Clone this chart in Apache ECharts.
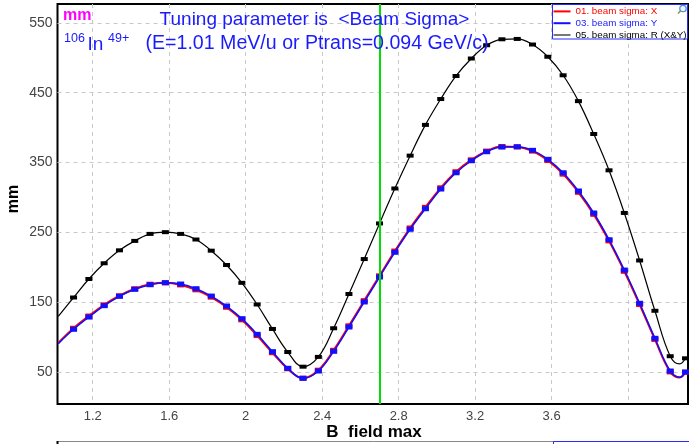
<!DOCTYPE html>
<html>
<head>
<meta charset="utf-8">
<script src="https://cdn.jsdelivr.net/npm/echarts@6/dist/echarts.min.js"></script>
<style>
html,body{margin:0;padding:0;background:#fff;}
#chart{width:689px;height:444px;}
</style>
</head>
<body>
<div id="chart"></div>
<script>
// ---- data ----
var bField = [1.02, 1.10, 1.18, 1.26, 1.34, 1.42, 1.50, 1.58, 1.66, 1.74, 1.82, 1.90, 1.98, 2.06, 2.14, 2.22, 2.30, 2.38, 2.46, 2.54, 2.62, 2.70, 2.78, 2.86, 2.94, 3.02, 3.10, 3.18, 3.26, 3.34, 3.42, 3.50, 3.58, 3.66, 3.74, 3.82, 3.90, 3.98, 4.06, 4.14, 4.22, 4.27, 4.30];
var sigmaX = [92, 113, 130.5, 146.5, 159.5, 169.5, 176, 178, 175, 168, 157.5, 143, 125, 102.5, 78, 55, 41.5, 53, 81.5, 116.5, 152.5, 188, 223.5, 256.5, 286, 314, 337, 354, 366.5, 373, 372.5, 366.5, 353, 333.5, 307.5, 276, 238, 194.5, 147, 97, 50.5, 42.5, 50];
var sigmaY = [91, 111.5, 129, 145.3, 158.7, 168.7, 175.3, 178.2, 176.3, 169.6, 159.1, 144.8, 126.7, 104.3, 79.5, 55.7, 41.4, 51.8, 80, 114.8, 150.6, 186.3, 221.7, 254.6, 284, 312.2, 335.5, 352.7, 365.6, 372.3, 372.7, 367.6, 354.7, 335.5, 309.4, 277.9, 239.7, 196.3, 148.7, 98.6, 51.8, 43, 50.4];
var sigmaR = [130, 157, 183.5, 206, 224.5, 238, 248, 250.5, 248, 240, 224, 203.5, 178, 147, 112, 79, 58, 72, 113, 162, 212, 263, 313, 360, 404, 441, 474, 499, 518, 526.5, 527, 519, 501.5, 475, 438, 391, 339, 278, 210, 138, 73, 62, 70];
var noMarkerAt = [1.02, 4.27];
var seriesNames = ['01. beam sigma: X', '03. beam sigma: Y', '05. beam sigma: R (X&Y)'];
var xTicks = [1.2, 1.6, 2.0, 2.4, 2.8, 3.2, 3.6, 4.0];
var xLabels = [1.2, 1.6, 2.0, 2.4, 2.8, 3.2, 3.6];
var yTicks = [50, 150, 250, 350, 450, 550];
var tuningB = 2.7;

function pairs(ys) { return bField.map(function (x, i) { return [x, ys[i]]; }); }
function sym(v) { return noMarkerAt.indexOf(v[0]) >= 0 ? 'none' : 'rect'; }

var FONT = '"Liberation Sans", Arial, sans-serif';
var chart = echarts.init(document.getElementById('chart'), null, {renderer: 'canvas'});
var option = {
  animation: false,
  backgroundColor: '#fff',
  grid: {left: 57.5, right: 1, top: 4, bottom: 40, show: true, borderColor: '#000', borderWidth: 2, backgroundColor: 'transparent'},
  xAxis: {
    type: 'value', min: 1.016, max: 4.313,
    axisLine: {show: false}, axisTick: {show: false, customValues: xTicks},
    axisLabel: {customValues: xLabels, color: '#444', fontSize: 13, fontFamily: FONT, margin: 6,
      formatter: function (v) { return String(Math.round(v * 10) / 10); }},
    splitLine: {show: true, lineStyle: {color: '#c8c8c8', type: [4, 4], width: 1}}
  },
  yAxis: {
    type: 'value', min: 4.6, max: 577,
    axisLine: {show: false}, axisTick: {show: false, customValues: yTicks},
    axisLabel: {customValues: yTicks, color: '#444', fontSize: 14, fontFamily: FONT, margin: 5},
    splitLine: {show: true, lineStyle: {color: '#c8c8c8', type: [4, 4], width: 1}}
  },
  legend: {
    orient: 'vertical', left: 553.5, top: 5.5, padding: 0, itemGap: 0,
    itemWidth: 17, itemHeight: 2, itemTextGap: 1,
    textStyle: {fontSize: 9.8, fontFamily: FONT, lineHeight: 11.8},
    data: [
      {name: seriesNames[0], icon: 'rect', textStyle: {color: '#ff0000'}},
      {name: seriesNames[1], icon: 'rect', textStyle: {color: '#1a1aff'}},
      {name: seriesNames[2], icon: 'rect', itemStyle: {color: '#777'}, textStyle: {color: '#000'}}
    ]
  },
  series: [
    {name: seriesNames[0], type: 'line', data: pairs(sigmaX), smooth: 0.4, showAllSymbol: true,
      symbol: sym, symbolSize: [7, 5], color: '#ff0000', lineStyle: {width: 2, color: '#ff0000'},
      itemStyle: {color: '#ff0000'}, z: 2,
      markLine: {silent: true, symbol: 'none', label: {show: false}, animation: false,
        lineStyle: {color: '#00dd00', width: 2, type: 'solid'}, data: [{xAxis: tuningB}]}},
    {name: seriesNames[1], type: 'line', data: pairs(sigmaY), smooth: 0.4, showAllSymbol: true,
      symbol: sym, symbolSize: [7, 5], color: '#1010ff', lineStyle: {width: 1.5, color: '#1010ff'},
      itemStyle: {color: '#1010ff'}, z: 3},
    {name: seriesNames[2], type: 'line', data: pairs(sigmaR), smooth: 0.4, showAllSymbol: true,
      symbol: sym, symbolSize: [7, 4], color: '#000', lineStyle: {width: 1.2, color: '#000'},
      itemStyle: {color: '#000'}, z: 4}
  ],
  graphic: [
    {type: 'rect', z: 3, shape: {x: 552.5, y: 4.5, width: 135, height: 34.5}, style: {fill: '#fff', stroke: '#2a2aff', lineWidth: 1}},
    {type: 'circle', z: 5, shape: {cx: 683, cy: 8.5, r: 3.2}, style: {fill: '#e8f4ff', stroke: '#5a8fc0', lineWidth: 1.3}},
    {type: 'line', z: 5, shape: {x1: 680.7, y1: 10.8, x2: 678, y2: 13.5}, style: {stroke: '#7a9a60', lineWidth: 1.6}},
    {type: 'text', z: 10, left: 63, top: 8, style: {text: 'mm', fill: '#ff00ff', font: 'bold 16px ' + FONT}},
    {type: 'text', z: 10, left: 64, top: 32, style: {text: '106', fill: '#1a1aff', font: '12.5px ' + FONT}},
    {type: 'text', z: 10, left: 87.5, top: 35, style: {text: 'In', fill: '#1a1aff', font: '19px ' + FONT}},
    {type: 'text', z: 10, left: 108, top: 32, style: {text: '49+', fill: '#1a1aff', font: '12.5px ' + FONT}},
    {type: 'text', z: 10, x: 314.5, y: 19.5, style: {text: 'Tuning parameter is  <Beam Sigma>', fill: '#1a1aff', font: '19px ' + FONT, align: 'center', verticalAlign: 'middle'}},
    {type: 'text', z: 10, x: 317, y: 44, style: {text: '(E=1.01 MeV/u or Ptrans=0.094 GeV/c)', fill: '#1a1aff', font: '19.6px ' + FONT, align: 'center', verticalAlign: 'middle'}},
    {type: 'text', z: 10, x: 14, y: 199, rotation: Math.PI / 2, style: {text: 'mm', fill: '#000', font: 'bold 16px ' + FONT, align: 'center', verticalAlign: 'middle'}},
    {type: 'text', z: 10, x: 374, y: 432, style: {text: 'B  field max', fill: '#000', font: 'bold 17px ' + FONT, align: 'center', verticalAlign: 'middle'}},
    {type: 'rect', z: 1, shape: {x: 57.5, y: 441.5, width: 640, height: 10}, style: {fill: '#fff', stroke: '#888', lineWidth: 1}},
    {type: 'line', z: 2, shape: {x1: 57.5, y1: 441, x2: 57.5, y2: 444}, style: {stroke: '#000', lineWidth: 2}},
    {type: 'rect', z: 2, shape: {x: 553.5, y: 441.5, width: 140, height: 10}, style: {fill: '#fff', stroke: '#2a2aff', lineWidth: 1}}
  ]
};
chart.setOption(option);
</script>
</body>
</html>
